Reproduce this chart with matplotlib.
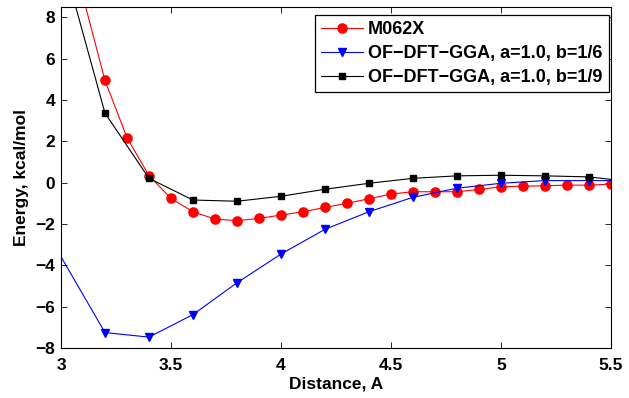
import numpy as np
import matplotlib
matplotlib.use("Agg")
import matplotlib.pyplot as plt

# M062X reference curve (0.1 A steps)
x_m06 = [3.1, 3.2, 3.3, 3.4, 3.5, 3.6, 3.7, 3.8, 3.9, 4.0, 4.1, 4.2, 4.3, 4.4,
         4.5, 4.6, 4.7, 4.8, 4.9, 5.0, 5.1, 5.2, 5.3, 5.4, 5.5]
e_m06 = [9.0, 4.95, 2.18, 0.34, -0.76, -1.41, -1.76, -1.84, -1.73, -1.57, -1.41,
         -1.20, -1.00, -0.78, -0.55, -0.44, -0.44, -0.44, -0.33, -0.20, -0.17,
         -0.15, -0.12, -0.12, -0.07]

# OF-DFT-GGA, b=1/6 (0.2 A steps)
x_b6 = [2.8, 3.2, 3.4, 3.6, 3.8, 4.0, 4.2, 4.4, 4.6, 4.8, 5.0, 5.2, 5.4, 5.6]
e_b6 = [0.08, -7.26, -7.48, -6.39, -4.85, -3.46, -2.26, -1.41, -0.71, -0.27,
        -0.03, 0.10, 0.10, 0.10]

# OF-DFT-GGA, b=1/9 (0.2 A steps)
x_b9 = [3.0, 3.2, 3.4, 3.6, 3.8, 4.0, 4.2, 4.4, 4.6, 4.8, 5.0, 5.2, 5.4, 5.6]
e_b9 = [11.1, 3.37, 0.21, -0.84, -0.90, -0.66, -0.32, -0.03, 0.21, 0.33, 0.36,
        0.33, 0.28, 0.04]

plt.rcParams['font.family'] = ['Liberation Sans', 'DejaVu Sans']
plt.rcParams['font.weight'] = 'bold'
plt.rcParams['font.size'] = 12.5

fig = plt.figure(figsize=(6.29, 3.98), dpi=100)
ax = fig.add_axes([0.097, 0.126, 0.874, 0.856])

ax.plot(x_m06, e_m06, color='red', lw=0.8, marker='o', ms=6.6,
        mfc='red', mec='red', label='M062X')
ax.plot(x_b6, e_b6, color='blue', lw=0.8, marker='v', ms=6.3,
        mfc='blue', mec='blue', label='OF\u2212DFT\u2212GGA, a=1.0, b=1/6')
ax.plot(x_b9, e_b9, color='black', lw=0.8, marker='s', ms=5,
        mfc='black', mec='black', label='OF\u2212DFT\u2212GGA, a=1.0, b=1/9')

ax.set_xlim(3, 5.5)
ax.set_ylim(-8, 8.5)
ax.set_xticks([3, 3.5, 4, 4.5, 5, 5.5])
ax.set_xticklabels(['3', '3.5', '4', '4.5', '5', '5.5'])
ax.set_yticks(np.arange(-8, 9, 2))
ax.tick_params(direction='in', top=True, right=True, length=4, width=0.6)
ax.tick_params(axis='x', pad=7)
ax.tick_params(axis='y', pad=4)
for s in ax.spines.values():
    s.set_linewidth(0.8)

ax.set_xlabel('Distance, A', fontweight='bold', labelpad=3)
ax.set_ylabel('Energy, kcal/mol', fontweight='bold', labelpad=5)

leg = ax.legend(loc='upper right', bbox_to_anchor=(0.9964, 0.977), fancybox=False,
                framealpha=1, edgecolor='black', handlelength=2.3,
                borderpad=0.35, labelspacing=0.38, handletextpad=0.3,
                borderaxespad=0.0, fontsize=13)
leg.get_frame().set_linewidth(0.9)

fig.savefig('out.png', dpi=100)
